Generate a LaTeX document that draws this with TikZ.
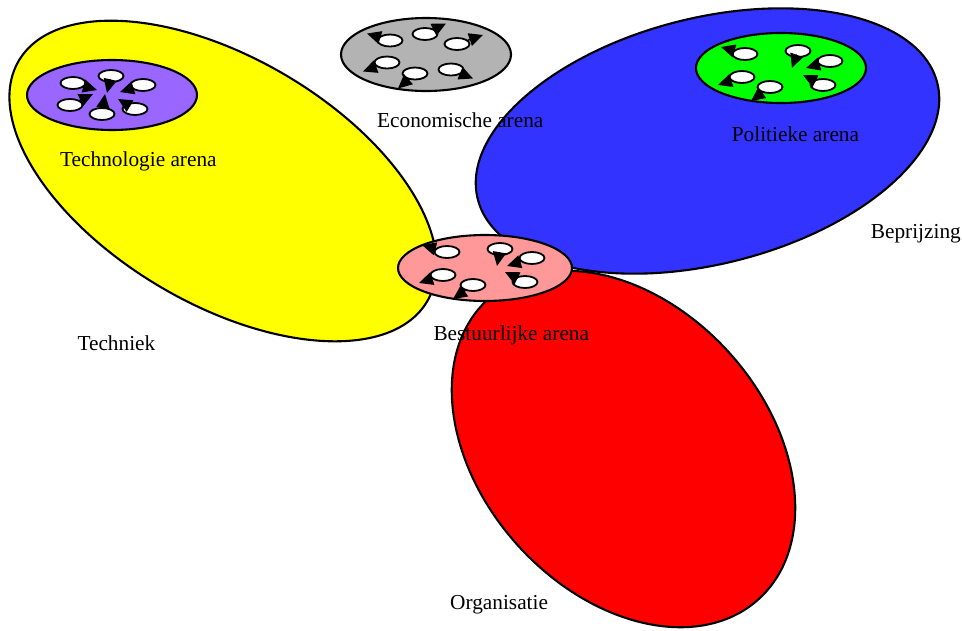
\documentclass[tikz,border=0pt]{standalone}
\usepackage{fontspec}
\setmainfont{Liberation Serif}
\usetikzlibrary{arrows.meta,shapes.geometric}
\definecolor{geel}{HTML}{FFFF00}
\definecolor{blauw}{HTML}{3333FF}
\definecolor{rood}{HTML}{FF0000}
\definecolor{grijs}{HTML}{B3B3B3}
\definecolor{paars}{HTML}{9966FF}
\definecolor{groen}{HTML}{00FF00}
\definecolor{roze}{HTML}{FF9999}
\tikzset{
  every picture/.style={line join=round, line cap=round, >=Stealth},
  veld/.style={draw=black, line width=2.1pt},
  arena/.style={draw=black, line width=2.1pt, ellipse, minimum width=170pt, minimum height=70pt, inner sep=0pt},
  actor/.style={draw=black, fill=white, line width=1.8pt, ellipse, minimum width=25pt, minimum height=12pt, inner sep=0pt},
  pijl/.style={line width=1.5pt, -{Triangle[length=14pt,width=13pt]}},
  lbl/.style={font=\fontsize{21.3}{25}\selectfont, inner sep=0pt, anchor=base west},
}

\begin{document}
\begin{tikzpicture}[x=1pt,y=-1pt]
\useasboundingbox (0,0) rectangle (962,630);
\draw[veld, fill=geel, rotate around={-30.5:(223,181)}] (223,181) ellipse [x radius=237, y radius=123];
\draw[veld, fill=blauw, rotate around={14.2:(707.5,141)}] (707.5,141) ellipse [x radius=237, y radius=123];
\draw[veld, fill=rood, rotate around={-48.2:(623.5,449)}] (623.5,449) ellipse [x radius=202, y radius=143];

\node[arena, fill=paars] (tech) at (112,95) {};
\begin{scope}[shift={(112,95)}]
  \foreach \i/\x/\y in {1/-39/-12, 2/-1/-19, 3/31/-10, 4/-42/10, 5/-10/19, 6/23/14}
    \node[actor] (tech\i) at (\x,\y) {};
  \foreach \i/\x/\y in {1/-15/-5, 2/-5/-2, 3/8/-3, 4/-19/-1, 5/-7/-1, 6/6/4}
    \coordinate (tech\i-tip) at (\x,\y);
  \foreach \i in {1,...,6}
    \draw[pijl] (tech\i) -- (tech\i-tip);
\end{scope}

\node[arena, fill=grijs, minimum height=73pt] (eco) at (426,54.5) {};
\begin{scope}[shift={(426,54.5)}]
  \foreach \i/\x/\y in {1/-36/-14, 2/-1/-20.5, 3/31/-10.5, 4/-39/8, 5/-11/19, 6/25/15}
    \node[actor] (eco\i) at (\x,\y) {};
  \foreach \i/\x/\y in {1/-59/-21, 2/20/-31, 3/57/-19.5, 4/-63/17, 5/-28/34, 6/47/24}
    \coordinate (eco\i-tip) at (\x,\y);
  \foreach \i in {1,...,6}
    \draw[pijl] (eco\i) -- (eco\i-tip);
\end{scope}

\node[arena, fill=groen] (pol) at (781,68) {};
\begin{scope}[shift={(781,68)}]
  \foreach \i/\x/\y in {1/-36/-14, 2/17/-17, 3/49/-7, 4/-39/9, 5/-11/19, 6/42/17}
    \node[actor] (pol\i) at (\x,\y) {};
  \foreach \i/\x/\y in {1/-60/-21, 2/11/0, 3/25/0, 4/-63/17, 5/-30/33, 6/22/7}
    \coordinate (pol\i-tip) at (\x,\y);
  \foreach \i in {1,...,6}
    \draw[pijl] (pol\i) -- (pol\i-tip);
\end{scope}

\node[arena, fill=roze, minimum width=174pt, minimum height=66pt] (bes) at (485,268) {};
\begin{scope}[shift={(485,268)}]
  \foreach \i/\x/\y in {1/-38/-16, 2/15/-19, 3/47/-10, 4/-42/7, 5/-12/17, 6/40/14}
    \node[actor] (bes\i) at (\x,\y) {};
  \foreach \i/\x/\y in {1/-63/-23, 2/12/-2, 3/22/-2, 4/-66/15, 5/-32/31, 6/20/4}
    \coordinate (bes\i-tip) at (\x,\y);
  \foreach \i in {1,...,6}
    \draw[pijl] (bes\i) -- (bes\i-tip);
\end{scope}

\node[lbl] (techtxt) at (60,166.7) {Technologie arena};
\node[lbl] (ecotxt) at (377,127.7) {Economische arena};
\node[lbl] (poltxt) at (731.7,141.7) {Politieke arena};
\node[lbl] (prijstxt) at (870.7,238.3) {Beprijzing};
\node[lbl] (bestxt) at (433.3,340) {Bestuurlijke arena};
\node[lbl] (techniektxt) at (77.3,350) {Techniek};
\node[lbl] (orgtxt) at (450,609.3) {Organisatie};
\end{tikzpicture}
\end{document}
